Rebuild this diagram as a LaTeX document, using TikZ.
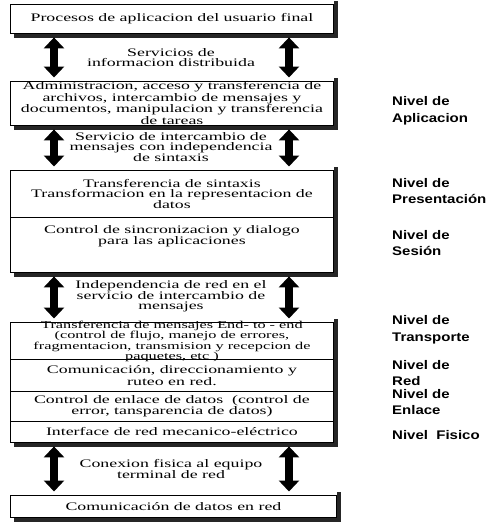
\documentclass[tikz,border=0pt]{standalone}
\usepackage{fontspec}
\usetikzlibrary{arrows.meta}
\newfontfamily\bodyfont[FakeStretch=1.55]{Liberation Serif}
\newfontfamily\lblfont[FakeStretch=1.2]{Liberation Sans}
\begin{document}
\begin{tikzpicture}[x=1pt,y=-1pt,
  box/.style={draw=black, line width=0.9pt, anchor=north west, inner sep=0pt, minimum width=323pt},
  boxtext/.style={align=center, font=\bodyfont\fontsize{11.5}{10}\selectfont, inner sep=0pt},
  midtext/.style={align=center, font=\bodyfont\fontsize{11.5}{10}\selectfont, inner sep=0pt},
  lvl/.style={anchor=west, align=left, font=\lblfont\bfseries\fontsize{12.5}{16.5}\selectfont, inner sep=0pt},
  shadowline/.style={draw=black!85, line width=4pt},
  twoarr/.style={line width=8pt, {Triangle[width=20pt,length=11pt]}-{Triangle[width=20pt,length=11pt]}, shorten >=3.5pt, shorten <=3.5pt}
]
\useasboundingbox (0,0) rectangle (490,522);
% boxes
\node[box, minimum height=29pt] (b1) at (10,4) {};
\node[box, minimum height=44pt] (b2) at (10,81) {};
\node[box, minimum height=47pt] (b3) at (10,170) {};
\node[box, minimum height=55pt] (b4) at (10,217) {};
\node[box, minimum height=37pt] (b5) at (10,322) {};
\node[box, minimum height=32pt] (b6) at (10,359) {};
\node[box, minimum height=30pt] (b7) at (10,391) {};
\node[box, minimum height=21pt] (b8) at (10,421) {};
\node[box, minimum height=22pt, minimum width=326pt] (b9) at (10,495) {};
% shadows (right and bottom strips)
\draw[shadowline] ([shift={(2.5,-3)}]b1.north east) -- ([shift={(2.5,2)}]b1.south east) -- ([shift={(4,2)}]b1.south west);
\draw[shadowline] ([shift={(2.5,-3)}]b2.north east) -- ([shift={(2.5,2)}]b2.south east) -- ([shift={(4,2)}]b2.south west);
\draw[shadowline] ([shift={(2.5,-3)}]b3.north east) -- ([shift={(2.5,2)}]b4.south east) -- ([shift={(4,2)}]b4.south west);
\draw[shadowline] ([shift={(2.5,-3)}]b5.north east) -- ([shift={(2.5,2)}]b8.south east) -- ([shift={(4,2)}]b8.south west);
\draw[shadowline] ([shift={(2.5,-3)}]b9.north east) -- ([shift={(2.5,2)}]b9.south east) -- ([shift={(4,2)}]b9.south west);
% box texts
\node[boxtext] (x1) at (b1.center) {Procesos de aplicacion del usuario final};
\node[boxtext, font=\bodyfont\fontsize{11.5}{9.4}\selectfont] (x2) at ([yshift=0.5pt]b2.center) {Administracion, acceso y transferencia de\\archivos, intercambio de mensajes y\\documentos, manipulacion y transferencia\\de tareas};
\node[boxtext] (x3) at (b3.center) {Transferencia de sintaxis\\Transformacion en la representacion de\\datos};
\node[boxtext] (x4) at ([yshift=8.5pt]b4.center) {Control de sincronizacion y dialogo\\para las aplicaciones};
\node[boxtext, font=\bodyfont\fontsize{10.5}{8.6}\selectfont] (x5) at ([yshift=-0.5pt]b5.center) {Transferencia de mensajes End- to - end\\(control de flujo, manejo de errores,\\fragmentacion, transmision y recepcion de\\paquetes, etc )};
\node[boxtext] (x6) at (b6.center) {Comunicación, direccionamiento y\\ruteo en red.};
\node[boxtext] (x7) at (b7.center) {Control de enlace de datos\ \ (control de\\error, tansparencia de datos)};
\node[boxtext] (x8) at (b8.center) {Interface de red mecanico-eléctrico};
\node[boxtext] (x9) at (b9.center) {Comunicación de datos en red};
% arrows
\coordinate (xl) at (54,0);
\coordinate (xr) at (289,0);
\draw[twoarr] (b1.south -| xl) -- (b2.north -| xl);
\draw[twoarr] (b1.south -| xr) -- (b2.north -| xr);
\draw[twoarr] (b2.south -| xl) -- (b3.north -| xl);
\draw[twoarr] (b2.south -| xr) -- (b3.north -| xr);
\draw[twoarr] (b4.south -| xl) -- (b5.north -| xl);
\draw[twoarr] (b4.south -| xr) -- (b5.north -| xr);
\draw[twoarr] (b8.south -| xl) -- (b9.north -| xl);
\draw[twoarr] (b8.south -| xr) -- (b9.north -| xr);
% middle texts
\node[midtext] (t1) at (171,58) {Servicios de\\informacion distribuida};
\node[midtext] (t2) at (171,147) {Servicio de intercambio de\\mensajes con independencia\\de sintaxis};
\node[midtext] (t3) at (171,296) {Independencia de red en el\\servicio de intercambio de\\mensajes};
\node[midtext] (t4) at (171,469) {Conexion fisica al equipo\\terminal de red};
% level labels
\node[lvl] (l1) at (392,111) {Nivel de\\Aplicacion};
\node[lvl] (l2) at (392,191) {Nivel de\\Presentación};
\node[lvl] (l3) at (392,243) {Nivel de\\Sesión};
\node[lvl] (l4) at (392,330) {Nivel de\\Transporte};
\node[lvl] (l5) at (392,373) {Nivel de\\Red};
\node[lvl] (l6) at (392,402) {Nivel de\\Enlace};
\node[lvl] (l7) at (392,435) {Nivel\ \ Fisico};
\end{tikzpicture}
\end{document}
